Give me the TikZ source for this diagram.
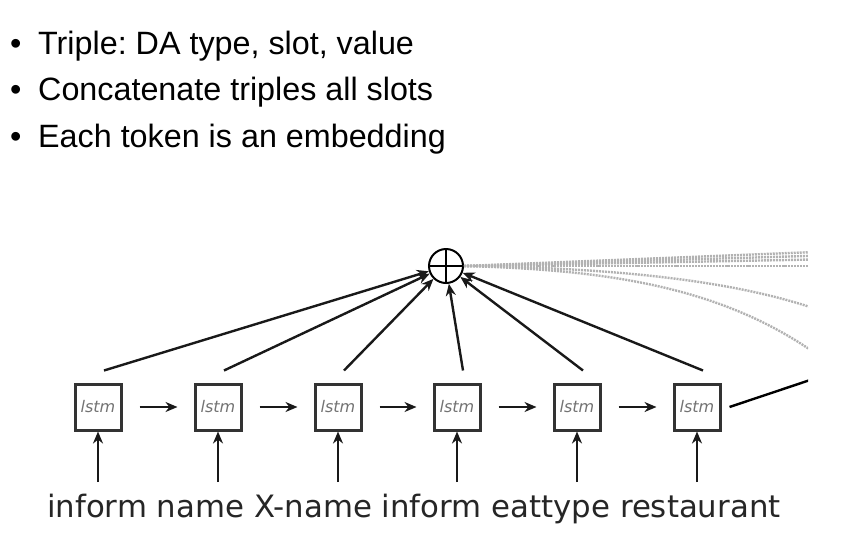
\documentclass[tikz,border=0pt]{standalone}
\usepackage{fontspec}
\setmainfont{Liberation Sans}
\newfontfamily\dejavu{DejaVu Sans}
\usetikzlibrary{arrows.meta}
\frenchspacing
\begin{document}
\begin{tikzpicture}[x=1pt,y=-1pt,
  lstmbox/.style={draw=black!80, line width=3pt, minimum size=46pt, inner sep=0pt,
    font=\dejavu\fontsize{16}{16}\selectfont\itshape, text=black!55},
  conn/.style={line width=2.4pt, black!90, -{Stealth[length=12pt,width=10pt]}},
  fan/.style={gray!60, line width=2.4pt, dash pattern=on 2pt off 1pt},
  bullettext/.style={anchor=base west, inner sep=0pt, font=\fontsize{32.3}{32.3}\selectfont},
  sumnode/.style={circle, draw, line width=2pt, minimum size=34pt, inner sep=0pt}
]
\useasboundingbox (0,0) rectangle (844,542);

% bullet list
\node[bullettext] (b1) at (10,54) {•};
\node[bullettext] (t1) at (38,54) {Triple: DA type, slot, value};
\node[bullettext] (b2) at (10,100) {•};
\node[bullettext] (t2) at (38,100) {Concatenate triples all slots};
\node[bullettext] (b3) at (10,147) {•};
\node[bullettext] (t3) at (38,147) {Each token is an embedding};

% sum node
\node[sumnode] (sum) at (446,266) {};
\draw[line width=2.6pt] (sum.north) -- (sum.south);
\draw[line width=2.2pt] (sum.west) -- (sum.east);

% lstm boxes
\foreach \i/\x in {1/98,2/218,3/338,4/457,5/577,6/697}{
  \node[lstmbox] (l\i) at (\x,407) {lstm};
  \coordinate (w\i) at (\x,482);
  \draw[conn] (w\i) -- (l\i.south);
  \coordinate (s\i) at ([xshift=6pt,yshift=12pt]l\i.north);
  \draw[conn] (s\i) -- (sum);
}
\foreach \a/\b in {1/2,2/3,3/4,4/5,5/6}{
  \draw[conn] ([xshift=17pt]l\a.east) -- ([xshift=-16pt]l\b.west);
}

% fan of dashed connections to the right (cropped)
\begin{scope}
\clip (0,0) rectangle (808,542);
\coordinate (f1) at (840,251);
\coordinate (f2) at (840,255);
\coordinate (f3) at (840,259);
\coordinate (f4) at (840,266);
\coordinate (f5) at (840,318);
\coordinate (f6) at (840,372);
\coordinate (g6) at (840,370);
\draw[fan] (sum.east) -- (f1);
\draw[fan] (sum.east) -- (f2);
\draw[fan] (sum.east) -- (f3);
\draw[fan] (sum.east) .. controls (620,266) .. (f4);
\draw[fan] (sum.east) .. controls (640,268) and (760,285) .. (f5);
\draw[fan] (sum.east) .. controls (620,270) and (740,290) .. (f6);
\draw[line width=2.4pt] ([xshift=8pt]l6.east) -- (g6);
\end{scope}

% input words
\node[anchor=base west, inner sep=0pt, text=black!85, font=\dejavu\fontsize{30.8}{30.8}\selectfont] (words) at (47,517)
  {inform name X-name inform eattype restaurant};
\end{tikzpicture}
\end{document}
